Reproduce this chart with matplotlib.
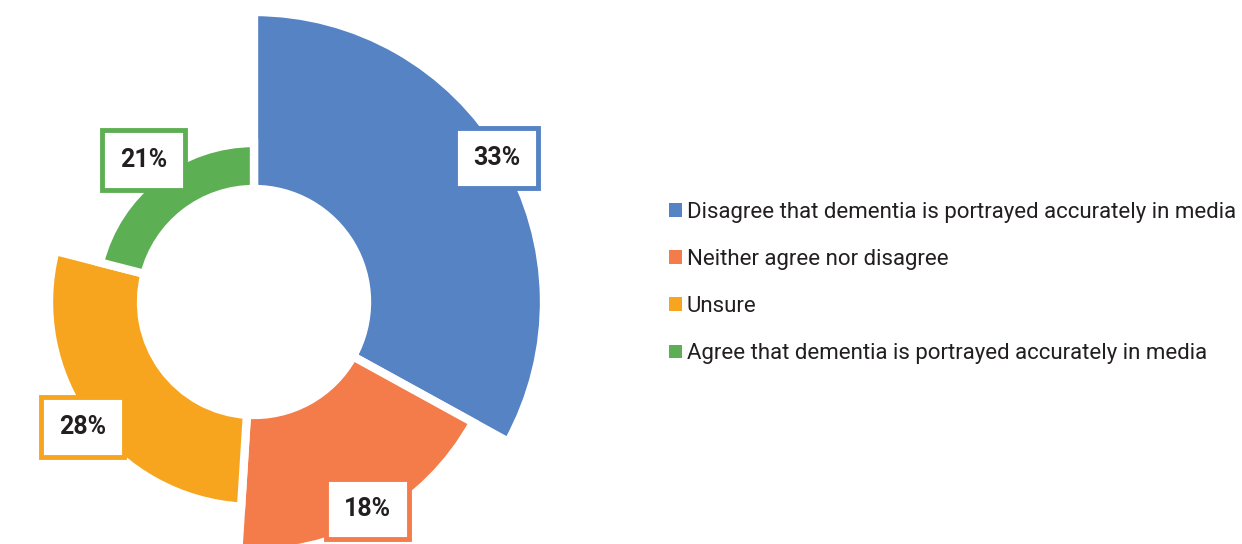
import matplotlib
matplotlib.use("Agg")
import numpy as np
from matplotlib import pyplot as plt
from matplotlib.patches import Patch

plt.rcParams['font.family'] = ['Roboto', 'DejaVu Sans']

# Survey responses
categories = [
    'Disagree that dementia is portrayed accurately in media',
    'Neither agree nor disagree',
    'Unsure',
    'Agree that dementia is portrayed accurately in media',
]
shares = [33, 18, 28, 21]
labels = [f'{v}%' for v in shares]

colors = ['#5683C4', '#F47B4A', '#F7A51E', '#5DAF54']

# stepped outer radius for each slice (pixels), shared hole radius
outer_r = [290, 250, 205, 159]
inner_r = 113
center = (254, 242)
label_r = [282, 236, 212, 180]

fig = plt.figure(figsize=(12.42, 5.44), dpi=100)
ax = fig.add_axes([0, 0, 1, 1])

wedges, _ = ax.pie(shares, startangle=90, counterclock=False, center=center,
                   radius=outer_r[0], colors=colors,
                   wedgeprops=dict(width=outer_r[0] - inner_r, edgecolor='white', linewidth=6))
for w, r in zip(wedges, outer_r):
    w.set_radius(r)
    w.set_width(r - inner_r)

# value boxes sit on each slice's mid angle
for w, lab, c, rl in zip(wedges, labels, colors, label_r):
    mid = np.deg2rad((w.theta1 + w.theta2) / 2)
    x = center[0] + rl * np.cos(mid)
    y = center[1] + rl * np.sin(mid)
    ax.text(x, y, lab, ha='center', va='center', fontsize=18, fontweight='bold', color='#231F20',
            bbox=dict(boxstyle='square,pad=0.72', facecolor='white', edgecolor=c, linewidth=3.5))

ax.set_xlim(0, 1242)
ax.set_ylim(0, 544)
ax.set_aspect('equal')
ax.axis('off')

handles = [Patch(facecolor=c, edgecolor='none') for c in colors]
ax.legend(handles, categories, loc='center left', bbox_to_anchor=(660 / 1242, 261 / 544),
          frameon=False, fontsize=16, handlelength=0.58, handleheight=0.58,
          handletextpad=0.22, labelspacing=1.18, borderaxespad=0, labelcolor='#231F20')

fig.savefig('out.png', dpi=100)
